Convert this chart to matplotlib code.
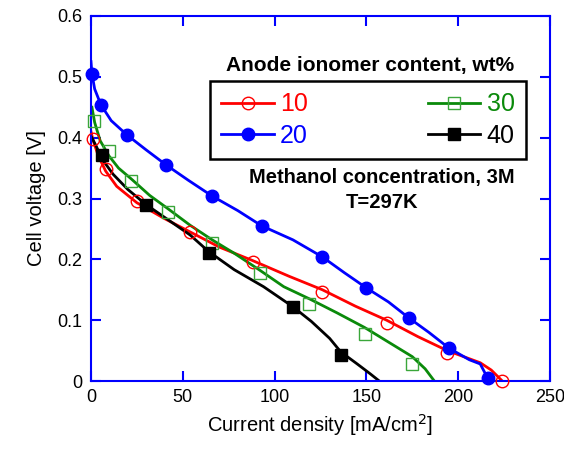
import matplotlib.pyplot as plt
from matplotlib.lines import Line2D

plt.rcParams['font.family'] = ['Liberation Sans', 'DejaVu Sans']

# marker points (current density mA/cm2, voltage V)
x10 = [1, 8, 25, 54, 88, 126, 161, 194, 224]
y10 = [0.397, 0.348, 0.296, 0.245, 0.196, 0.146, 0.095, 0.046, 0.0]
x20 = [0.5, 5.4, 19.4, 41, 66, 93, 126, 150, 173, 195, 216]
y20 = [0.505, 0.454, 0.405, 0.355, 0.304, 0.255, 0.204, 0.153, 0.104, 0.054, 0.005]
x30 = [1.6, 9.8, 22, 42, 66, 92, 119, 149, 175]
y30 = [0.428, 0.378, 0.329, 0.278, 0.227, 0.178, 0.127, 0.077, 0.028]
x40 = [6, 30, 64, 110, 136]
y40 = [0.372, 0.29, 0.211, 0.122, 0.042]

# measured curves
lx10 = [0, 1, 4, 8, 14, 25, 40, 54, 70, 88, 108, 126, 144, 161, 178, 194, 212, 218, 224]
ly10 = [0.41, 0.397, 0.37, 0.345, 0.32, 0.293, 0.267, 0.245, 0.22, 0.198, 0.172, 0.15, 0.123, 0.1, 0.073, 0.05, 0.03, 0.018, 0.0]
lx20 = [0, 0.5, 2, 5.4, 11, 19.4, 30, 41, 53, 66, 80, 93, 110, 126, 138, 150, 162, 173, 184, 195, 206, 212, 216]
ly20 = [0.525, 0.505, 0.48, 0.454, 0.428, 0.405, 0.38, 0.355, 0.33, 0.304, 0.28, 0.255, 0.232, 0.204, 0.178, 0.153, 0.13, 0.104, 0.08, 0.054, 0.035, 0.028, 0.005]
lx30 = [0.5, 2, 5, 9.8, 15, 22, 32, 42, 54, 66, 78, 92, 105, 119, 134, 149, 162, 175, 182, 187]
ly30 = [0.45, 0.425, 0.395, 0.37, 0.35, 0.332, 0.305, 0.283, 0.256, 0.232, 0.21, 0.182, 0.155, 0.135, 0.112, 0.088, 0.064, 0.04, 0.02, 0.0]
lx40 = [0.5, 3, 6, 12, 20, 30, 42, 54, 64, 78, 94, 110, 120, 130, 136, 145, 152, 157]
ly40 = [0.40, 0.385, 0.365, 0.34, 0.315, 0.29, 0.265, 0.24, 0.213, 0.183, 0.155, 0.122, 0.098, 0.07, 0.048, 0.028, 0.012, 0.0]

fig = plt.figure(figsize=(5.64, 4.49), dpi=100)
ax = fig.add_axes([91 / 564, 1 - 381 / 449, 459 / 564, 365 / 449])

red, blue, green, black = '#ff0000', '#0000ff', '#0a8a0a', 'black'
lw = 2.0
ax.plot(lx10, ly10, color=red, lw=lw, zorder=2)
ax.plot(lx20, ly20, color=blue, lw=lw, zorder=2)
ax.plot(lx30, ly30, color=green, lw=lw, zorder=2)
ax.plot(lx40, ly40, color=black, lw=lw, zorder=2)
ax.plot(x10, y10, 'o', mfc='none', mec=red, mew=1.0, ms=9, zorder=3, clip_on=False)
ax.plot(x20, y20, 'o', color=blue, ms=9, zorder=3, clip_on=False)
ax.plot(x30, y30, 's', mfc='none', mec='#3aa63a', mew=1.0, ms=9, zorder=3, clip_on=False)
ax.plot(x40, y40, 's', color=black, ms=8.5, zorder=3, clip_on=False)

ax.set_xlim(0, 250)
ax.set_ylim(0, 0.6)
ax.set_xticks([0, 50, 100, 150, 200, 250])
ax.set_yticks([0, 0.1, 0.2, 0.3, 0.4, 0.5, 0.6])
ax.set_yticklabels(['0', '0.1', '0.2', '0.3', '0.4', '0.5', '0.6'])
for s in ax.spines.values():
    s.set_color(blue)
    s.set_linewidth(1.5)
ax.tick_params(direction='in', length=7, width=1.5, color=blue, labelsize=13,
               top=True, right=True, pad=6)
ax.set_xlabel('Current density [mA/cm$^2$]', fontsize=14.5, labelpad=4)
ax.set_ylabel('Cell voltage [V]', fontsize=14.5, labelpad=8)

handles = [
    Line2D([], [], color=red, lw=lw, marker='o', mfc='none', mec=red, ms=9),
    Line2D([], [], color=blue, lw=lw, marker='o', ms=9),
    Line2D([], [], color=green, lw=lw, marker='s', mfc='none', mec='#3aa63a', ms=9),
    Line2D([], [], color=black, lw=lw, marker='s', ms=8.5),
]
labels = ['10', '20', '30', '40']
leg = ax.legend(handles, labels, ncol=2, loc='upper left',
                bbox_to_anchor=(210 / 564, 1 - 81 / 449), bbox_transform=fig.transFigure,
                fontsize=18, frameon=True, fancybox=False, edgecolor='black', framealpha=1,
                handlelength=2.1, handletextpad=0.25, columnspacing=4.8,
                borderpad=0.45, labelspacing=0.3, borderaxespad=0)
leg.get_frame().set_linewidth(1.8)
for t, c in zip(leg.get_texts(), [red, blue, green, black]):
    t.set_color(c)

fig.text(370 / 564, 1 - 65 / 449, 'Anode ionomer content, wt%', fontsize=15,
         fontweight='bold', ha='center', va='center')
fig.text(382 / 564, 1 - 178 / 449, 'Methanol concentration, 3M', fontsize=14.5,
         fontweight='bold', ha='center', va='center')
fig.text(382 / 564, 1 - 203 / 449, 'T=297K', fontsize=14.5,
         fontweight='bold', ha='center', va='center')

fig.savefig('out.png', dpi=100)
